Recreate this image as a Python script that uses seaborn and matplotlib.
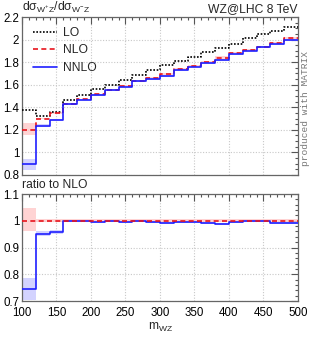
import numpy as np
import pandas as pd
import matplotlib
matplotlib.use("Agg")
import matplotlib.pyplot as plt
from matplotlib.ticker import MultipleLocator
import seaborn as sns

# ---- data ----
bin_edges = [100, 120, 140, 160, 180, 200, 220, 240, 260, 280, 300,
             320, 340, 360, 380, 400, 420, 440, 460, 480, 500]
lo = [1.38, 1.32, 1.36, 1.464, 1.508, 1.558, 1.596, 1.64, 1.685, 1.729,
      1.773, 1.809, 1.847, 1.886, 1.927, 1.965, 2.01, 2.045, 2.077, 2.112]
nlo = [1.20, 1.30, 1.346, 1.428, 1.47, 1.514, 1.552, 1.588, 1.632, 1.66,
       1.694, 1.738, 1.767, 1.803, 1.841, 1.877, 1.906, 1.935, 1.971, 2.01]
nnlo = [0.894, 1.238, 1.288, 1.425, 1.467, 1.509, 1.549, 1.583, 1.629, 1.652,
        1.679, 1.731, 1.760, 1.790, 1.819, 1.869, 1.902, 1.933, 1.957, 1.996]
# relative scale uncertainties (up / down)
nlo_up = [0.048, 0.006, 0.006, 0.005, 0.005, 0.005, 0.005, 0.005, 0.005, 0.005,
          0.005, 0.005, 0.005, 0.005, 0.005, 0.005, 0.005, 0.005, 0.005, 0.005]
nlo_dn = [0.040, 0.006, 0.006, 0.005, 0.005, 0.005, 0.005, 0.005, 0.005, 0.005,
          0.005, 0.005, 0.005, 0.005, 0.005, 0.005, 0.005, 0.005, 0.005, 0.005]
nnlo_up = [0.054, 0.008, 0.008, 0.004, 0.004, 0.004, 0.004, 0.004, 0.004, 0.004,
           0.004, 0.004, 0.004, 0.004, 0.004, 0.004, 0.004, 0.004, 0.004, 0.004]
nnlo_dn = [0.054, 0.008, 0.008, 0.004, 0.004, 0.004, 0.004, 0.004, 0.004, 0.004,
           0.004, 0.004, 0.004, 0.004, 0.004, 0.004, 0.004, 0.004, 0.004, 0.004]
top_yticks = [0.8, 1, 1.2, 1.4, 1.6, 1.8, 2, 2.2]
bot_yticks = [0.7, 0.8, 0.9, 1, 1.1]
xticks = [100, 150, 200, 250, 300, 350, 400, 450, 500]

sns.set_theme(style="white")
plt.rcParams['font.family'] = ['Liberation Sans', 'DejaVu Sans']
plt.rcParams['mathtext.default'] = 'regular'

edges = np.array(bin_edges, dtype=float)
def ext(v):
    v = np.asarray(v, dtype=float)
    return np.append(v, v[-1])

LO, NLO, NNLO = ext(lo), ext(nlo), ext(nnlo)
NLOu, NLOd = ext(nlo_up), ext(nlo_dn)
NNLOu, NNLOd = ext(nnlo_up), ext(nnlo_dn)

df = pd.DataFrame({
    'm': np.concatenate([edges, edges, edges]),
    'v': np.concatenate([LO, NLO, NNLO]),
    'order': ['LO'] * len(edges) + ['NLO'] * len(edges) + ['NNLO'] * len(edges),
})
dfr = pd.DataFrame({
    'm': np.concatenate([edges, edges]),
    'v': np.concatenate([NLO / NLO, NNLO / NLO]),
    'order': ['NLO'] * len(edges) + ['NNLO'] * len(edges),
})

colors = {'LO': 'black', 'NLO': '#e8141c', 'NNLO': '#1f1fff'}
styles = {'LO': (0, (1, 1)), 'NLO': (0, (3, 2)), 'NNLO': '-'}

fig = plt.figure(figsize=(3.11, 3.40), dpi=100)
ax1 = fig.add_axes([0.0707, 0.4853, 0.8875, 0.4647])
ax2 = fig.add_axes([0.0707, 0.1147, 0.8875, 0.3147])

nlo_band_c = '#ffc8c8'
nnlo_band_c = '#c8c8ff'

# top panel bands
ax1.fill_between(edges, NLO * (1 - NLOd), NLO * (1 + NLOu), step='post',
                 color=nlo_band_c, alpha=0.8, lw=0, zorder=1)
ax1.fill_between(edges, NNLO * (1 - NNLOd), NNLO * (1 + NNLOu), step='post',
                 color=nnlo_band_c, alpha=0.8, lw=0, zorder=1)
for o in ['LO', 'NLO', 'NNLO']:
    sub = df[df.order == o]
    sns.lineplot(data=sub, x='m', y='v', ax=ax1, color=colors[o],
                 linestyle=styles[o], lw=1.2, drawstyle='steps-post',
                 estimator=None, sort=False, label=o, zorder=3)

# bottom panel
ax2.fill_between(edges, 1 - NLOd, 1 + NLOu, step='post',
                 color=nlo_band_c, alpha=0.8, lw=0, zorder=1)
ax2.fill_between(edges, (NNLO / NLO) * (1 - NNLOd), (NNLO / NLO) * (1 + NNLOu),
                 step='post', color=nnlo_band_c, alpha=0.8, lw=0, zorder=1)
for o in ['NNLO', 'NLO']:
    sub = dfr[dfr.order == o]
    sns.lineplot(data=sub, x='m', y='v', ax=ax2, color=colors[o],
                 linestyle=styles[o], lw=1.2, drawstyle='steps-post',
                 estimator=None, sort=False, legend=False, zorder=3)

fs = 8.3
for ax, yt, ymin, ymax, yminor in [(ax1, top_yticks, 0.8, 2.2, 0.05),
                                   (ax2, bot_yticks, 0.7, 1.1, 0.02)]:
    ax.set_xlim(100, 500)
    ax.set_ylim(ymin, ymax)
    ax.set_xticks(xticks)
    ax.set_yticks(yt)
    ax.set_yticklabels([f'{t:g}' for t in yt])
    ax.xaxis.set_minor_locator(MultipleLocator(10))
    ax.yaxis.set_minor_locator(MultipleLocator(yminor))
    ax.tick_params(which='both', direction='in', top=True, right=True,
                   colors='#555555', labelcolor='black', labelsize=fs)
    ax.tick_params(axis='y', which='both', pad=2)
    ax.tick_params(axis='x', which='both', pad=4)
    ax.tick_params(which='major', length=5, width=0.8)
    ax.tick_params(which='minor', length=2.5, width=0.8)
    ax.grid(True, which='major', color='#c8c8c8', linestyle=(0, (1, 1.5)), lw=0.8)
    for s in ax.spines.values():
        s.set_color('#666666')
        s.set_linewidth(0.9)
    ax.set_xlabel('')
    ax.set_ylabel('')
    ax.set_axisbelow(True)

ax1.tick_params(labelbottom=False)
ax1.legend(loc='upper left', bbox_to_anchor=(0.01, 0.99), frameon=False,
           fontsize=fs + 0.4, handlelength=2.0, handletextpad=0.5,
           labelspacing=0.45, borderaxespad=0.3)

fig.text(0.0707, 0.956, r'd$\sigma_{W^{+}Z}$/d$\sigma_{W^{-}Z}$', fontsize=fs + 0.4,
         ha='left', va='bottom')
fig.text(0.958, 0.956, 'WZ@LHC 8 TeV', fontsize=fs + 0.4, ha='right', va='bottom')
fig.text(0.0707, 0.437, 'ratio to NLO', fontsize=fs + 0.4, ha='left', va='bottom')
fig.text(0.515, 0.018, r'm$_{WZ}$', fontsize=fs + 0.4, ha='center', va='bottom')
fig.text(0.982, 0.681, 'produced with MATRIX', fontsize=6.8, rotation=90,
         ha='center', va='center', family='Liberation Mono', color='#777777')

fig.savefig('out.png', dpi=100)
